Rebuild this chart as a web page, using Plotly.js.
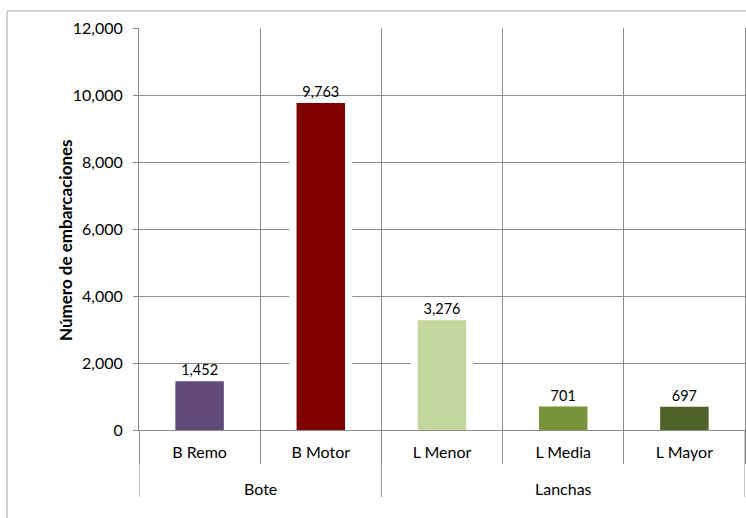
<!DOCTYPE html>
<html>
<head>
<meta charset="utf-8">
<script src="https://cdn.plot.ly/plotly-3.0.1.min.js"></script>
<style>html,body{margin:0;padding:0;background:#fff;}#chart{width:746px;height:518px;}</style>
</head>
<body>
<div id="chart"></div>
<script>
const groups = ['Bote', 'Bote', 'Lanchas', 'Lanchas', 'Lanchas'];
const categories = ['B Remo', 'B Motor', 'L Menor', 'L Media', 'L Mayor'];
const values = [1452, 9763, 3276, 701, 697];
const barColors = ['#604A7B', '#800000', '#C3D69B', '#77933C', '#4F6228'];
const yTicks = [0, 2000, 4000, 6000, 8000, 10000, 12000];
const yTitle = 'Número de embarcaciones';

const gridC = '#8C8C8C';
const font = 'Lato, "Open Sans", sans-serif';

// group spans (category index ranges) derived from the groups array
const groupSpans = [];
groups.forEach((g, i) => {
  const last = groupSpans[groupSpans.length - 1];
  if (last && last.name === g) last.end = i; else groupSpans.push({name: g, start: i, end: i});
});

const halo = {
  type: 'bar', x: categories, y: values,
  width: 0.52, marker: {color: '#ffffff'}, hoverinfo: 'skip', showlegend: false
};
const bars = {
  type: 'bar', x: categories, y: values,
  width: 0.4,
  marker: {color: barColors, line: {width: 0}},
  text: values.map(v => v.toLocaleString('en-US')),
  textposition: 'outside', cliponaxis: false,
  textfont: {family: font, size: 14.5, color: '#000'},
  showlegend: false
};

const annotations = groupSpans.map(s => ({
  xref: 'x', yref: 'paper', x: (s.start + s.end) / 2, y: -0.1443,
  xanchor: 'center', yanchor: 'middle', showarrow: false,
  text: s.name, font: {family: font, size: 16, color: '#000'}
}));
annotations.push({
  xref: 'paper', yref: 'paper', x: -0.1221, y: 0.4726,
  xanchor: 'center', yanchor: 'middle', showarrow: false, textangle: -90,
  text: '<b>' + yTitle + '</b>', font: {family: font, size: 17, color: '#000'}
});

const dividerXs = [groupSpans[0].start - 0.5].concat(groupSpans.map(s => s.end + 0.5));
const shapes = dividerXs.map(xv => ({
  type: 'line', xref: 'x', yref: 'paper', x0: xv, x1: xv, y0: 0, y1: -0.1667,
  line: {color: gridC, width: 1}
}));
shapes.push({
  type: 'rect', xref: 'paper', yref: 'paper',
  x0: -0.2178, x1: 1.05, y0: -0.3, y1: 1.0423,
  line: {color: '#A6A6A6', width: 1}, fillcolor: 'rgba(0,0,0,0)', layer: 'below'
});

const layout = {
  width: 746, height: 518,
  margin: {l: 139, r: 1, t: 28, b: 88},
  paper_bgcolor: '#fff', plot_bgcolor: '#fff',
  barmode: 'overlay',
  font: {family: font, size: 16, color: '#000'},
  xaxis: {
    type: 'category', range: [-0.5, categories.length - 0.5],
    tickson: 'boundaries',
    showgrid: true, gridcolor: gridC, gridwidth: 1,
    showline: true, linecolor: gridC,
    ticks: 'outside', ticklen: 33, tickcolor: gridC,
    ticklabelstandoff: 8,
    tickfont: {family: font, size: 16, color: '#000'}
  },
  yaxis: {
    range: [0, 12000], tickvals: yTicks, tickformat: ',d',
    showgrid: true, gridcolor: gridC, gridwidth: 1,
    showline: true, mirror: true, linecolor: gridC,
    ticks: 'outside', ticklen: 5, tickcolor: gridC,
    ticklabelstandoff: 7,
    zeroline: false,
    tickfont: {family: font, size: 16, color: '#000'}
  },
  annotations: annotations,
  shapes: shapes
};

Plotly.newPlot('chart', [halo, bars], layout, {staticPlot: true, displayModeBar: false});
</script>
</body>
</html>
